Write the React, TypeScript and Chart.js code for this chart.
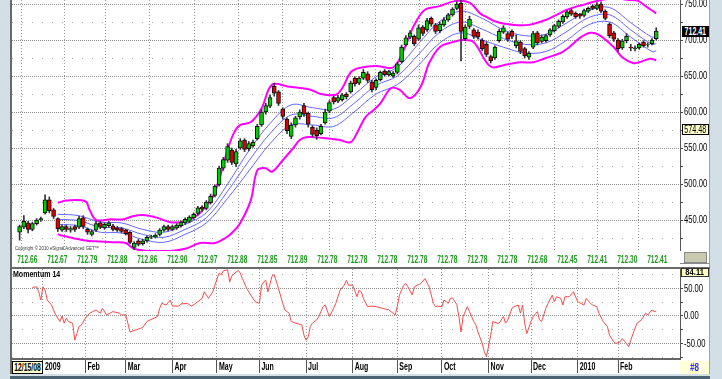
import React, { useEffect, useRef } from 'react';
import { Chart, registerables } from 'chart.js';

Chart.register(...registerables);

// ---------------- DATA ----------------
// trading-day number counted from 12/15/08 (day 0); each candle covers two sessions
const OPEN = [
  433,440,446,437,445,450,460,478,464,452,
  436,441,436,441,440,453,437,430,436,446,
  439,442,442,439,438,436,433,412,421,417,
  421,426,426,430,436,441,437,439,442,446,
  448,453,459,468,466,474,484,499,522,533,
  547,528,550,561,549,553,563,582,600,608,
  636,628,604,590,566,582,593,609,598,579,
  575,570,585,601,620,615,617,625,628,647,
  640,647,653,642,634,645,657,652,650,655,
  670,693,704,705,701,718,714,730,721,713,
  721,728,735,744,751,702,719,714,711,700,
  694,677,675,699,711,709,712,692,697,688,
  676,690,710,698,699,707,713,719,725,732,
  741,737,736,734,740,747,744,750,740,722,
  710,700,689,699,690,688,689,697,693,695,
  702,
];
const CLOSE = [
  441,448,437,445,450,452,478,463,455,438,
  441,437,438,437,452,441,433,434,445,440,
  444,446,437,436,434,431,419,418,416,421,
  426,427,429,436,441,437,441,443,447,451,
  454,458,467,465,475,483,497,522,534,552,
  530,545,560,548,556,558,580,600,609,620,
  626,612,594,574,582,592,600,597,583,569,
  567,580,600,613,614,620,624,621,640,639,
  647,655,644,631,644,655,652,656,654,667,
  690,703,710,695,717,709,727,722,712,722,
  728,735,743,750,712,718,729,705,704,688,
  680,671,690,712,717,701,705,699,684,678,
  682,709,696,704,706,714,720,726,733,739,
  736,732,733,741,744,744,749,740,730,706,
  701,688,699,705,689,689,694,692,693.5,700,
  712.41,
];
const HIGH = [
  443,456,448,447,452,454,485,482,466,453,
  443,443,441,443,455,456,439,436,448,448,
  446,448,444,441,440,437,434,420,423,423,
  428,429,431,438,443,443,443,445,449,453,
  456,460,469,470,477,486,499,525,537,556,
  550,548,563,563,559,561,583,604,612,624,
  640,630,606,592,585,594,603,612,600,581,
  578,583,604,616,622,623,626,627,643,649,
  649,659,656,644,646,657,659,658,656,669,
  693,706,713,707,721,720,730,732,723,725,
  731,737,745,753,755,721,733,716,714,702,
  697,679,692,715,720,711,714,707,699,690,
  684,712,712,707,708,716,722,728,735,741,
  743,739,737,743,746,749,752,753,742,724,
  712,702,701,709,694,692,696,699,696,702,
  717,
];
const LOW = [
  422,438,432,435,443,448,458,460,452,434,
  434,434,433,434,438,438,430,428,434,438,
  437,440,435,434,432,429,417,409,414,415,
  419,424,425,428,434,435,435,437,440,444,
  446,451,457,462,464,472,482,497,519,530,
  527,524,548,545,546,551,561,580,597,606,
  622,609,590,570,563,579,590,594,579,566,
  562,568,583,599,611,613,615,618,626,636,
  638,645,641,628,631,643,650,650,648,653,
  668,691,702,692,699,706,712,719,709,710,
  719,726,733,742,671,699,716,702,701,685,
  677,668,673,697,709,698,702,689,681,675,
  673,688,693,696,697,705,711,717,723,730,
  734,730,730,732,738,742,742,738,728,703,
  698,684,687,696,685,685,687,690,690,693,
  700,
];
const CANDLE_DAYS = OPEN.map((_, k) => 1 + 2 * k);

// Bollinger bands (magenta)
const UPPER_DAYS = [19,23,32,34,37,44,50,54,59,66,72,79,85,89,92,95,99,102,105,110,115,120,128,138,143,150,153,157,161,169,176,179,183,187,192,199,206,213,218,221,226,234,241,249,254,259,264,268,274,282,287,292,297,301];
const UPPER_BAND = [474,477,476,464,450,451,451,455,457,453,447,448,457,470,482,506,547,571,582,586,605,638,635,631,625,624,633,655,661,664,661,668,693,721,742,747,754,752,737,732,725,721,721,728,735,742,747,750,755,758,756,755,745,737];
const LOWER_DAYS = [19,23,31,39,46,51,55,62,72,79,86,93,98,101,105,110,113,117,120,125,130,133,136,144,152,157,160,164,168,171,176,180,185,190,194,199,205,210,215,221,224,229,237,243,249,256,260,265,270,274,281,285,290,293,298,301];
const LOWER_BAND = [430,427,422,420,419,418,410,407,407,410,418,418,425,432,446,478,519,522,517,533,550,561,565,564,561,558,571,593,603,612,633,631,619,635,668,690,697,700,697,669,662,665,669,669,675,682,690,703,710,707,690,676,668,669,674,672];

// channel lines (blue)
const CHANNEL_DAYS = [19,29,39,49,59,69,79,89,99,109,119,129,139,149,159,169,179,189,199,209,219,229,239,249,259,269,279,289,299,301];
const CHANNEL_MID = [451,449,440,439,430,426,437,453,490,532,570,596,594,592,613,637,650,680,711,725,715,702,694,696,712,731,735,714,694,695];
const CHANNEL_UP = [458,456,447,446,437,433,444,460,500,546,584,610,606,604,625,649,662,695,726,740,730,714,706,708,724,741,745,724,704,705];
const CHANNEL_LO = [444,442,433,432,423,419,430,446,480,518,556,582,582,580,601,625,638,665,696,710,700,690,682,684,700,721,725,704,684,685];

// Momentum 14
const MOM_DAYS = [7,9,10,11,12,13,14,16,18,20,21,22,23,24,26,27,28,29,30,32,34,37,39,40,42,45,48,49,51,52,53,56,59,61,62,66,67,68,70,72,73,76,77,80,82,84,85,87,88,90,92,93,95,96,97,99,100,101,104,105,106,108,110,111,112,114,115,116,117,118,120,121,123,125,126,128,129,131,134,135,136,137,138,139,141,142,143,144,145,147,149,150,151,152,154,155,156,158,160,161,162,163,165,167,169,172,175,176,178,179,180,182,183,184,186,187,190,192,194,196,197,198,200,201,203,204,205,207,208,209,210,212,213,215,216,217,219,220,221,223,224,226,227,229,230,231,233,234,236,237,238,239,240,242,243,245,246,247,249,250,252,253,254,256,257,258,260,262,263,264,267,268,270,271,273,274,276,278,279,281,282,284,285,287,288,289,291,292,294,296,297,299,300,301];
const MOM_VALUES = [52,53,44,29,53,47,29,20,2,-10,0,-13,-4,-10,-13,-44,-32,-19,-17,-4,5,11,5,14,2,8,5,2,2,-13,-29,-25,-21,-10,-8,-1,14,23,20,29,18,18,22,23,18,23,26,32,44,32,44,56,78,75,82,84.11,62,73,83,78,68,50,38,32,26,23,56,62,65,44,73,75,50,23,11,5,-10,-13,-16,-35,-44,-38,-19,-13,-7,-1,8,17,20,-1,14,23,35,47,56,65,56,56,35,47,44,32,17,18,17,14,11,8,2,18,38,56,59,53,38,53,59,68,53,23,17,18,17,29,23,32,33,21,-1,-29,-1,17,8,-10,-16,-29,-50,-65,-74,-35,-10,-13,-13,-1,-13,-8,14,17,20,5,20,-13,-32,-10,-1,8,-7,-10,14,23,38,26,35,32,20,35,35,44,35,26,20,32,23,20,17,5,-10,-19,-35,-47,-50,-47,-41,-50,-56,-44,-22,-13,-7,5,2,11,8,9];

// axes and labels
const MONTH_DAYS = [12,32,51,73,94,114,136,158,179,200,222,242,264,283];
const MONTH_LABELS = ['2009','Feb','Mar','Apr','May','Jun','Jul','Aug','Sep','Oct','Nov','Dec','2010','Feb'];
const PRICE_TICKS = [425,450,475,500,525,550,575,600,625,650,675,700,725,750];
const PRICE_LABELED = [450,500,550,600,650,700,750];
const MOM_TICKS = [-75,-50,-25,0,25,50,75];
const MOM_LABELED = [-50,0,50];
const GET_VALUES = ['712.66','712.67','712.79','712.88','712.86','712.90','712.97','712.88','712.85','712.89','712.78','712.78','712.78','712.78','712.78','712.78','712.78','712.68','712.45','712.41','712.30','712.41'];
const LAST_PRICE = '712.41';
const SECOND_PRICE = '574.48';
const MOM_MAX_LABEL = '84.11';
const START_DATE = '12/15/08';
const PANEL_TITLE = 'Momentum 14';
const COPYRIGHT = 'Copyright © 2010 eSignal Advanced GET™';

// ---------------- STYLE ----------------
const SANS = '"Liberation Sans", Arial, sans-serif';
const X_MIN = -2.59;
const X_MAX = 312.2;
const P_MIN = 406.95;
const P_MAX = 755.56;
const M_MAX = 85.45;
const M_MIN = -78.2;

const pts = (xs: number[], ys: number[]) => xs.map((x, i) => ({ x, y: ys[i] }));

function squeezeText(ctx: CanvasRenderingContext2D, text: string, x: number, y: number, sx: number) {
  ctx.save();
  ctx.translate(x, y);
  ctx.scale(sx, 1);
  ctx.fillText(text, 0, 0);
  ctx.restore();
}

function xScale(withTicks: boolean): any {
  return {
    type: 'linear',
    min: X_MIN,
    max: X_MAX,
    offset: false,
    afterBuildTicks: (s: any) => { s.ticks = MONTH_DAYS.map((v) => ({ value: v })); },
    ticks: { display: false },
    grid: {
      color: '#9a9a9a', lineWidth: 1,
      drawTicks: withTicks, tickLength: 14, tickColor: '#555', tickBorderDash: [20, 0],
    },
    border: { display: withTicks, color: '#666', width: 2, dash: [1, 2] },
    afterFit: (s: any) => { s.height = withTicks ? 15 : 0; s.paddingLeft = 0; s.paddingRight = 0; },
  };
}

function yScale(min: number, max: number, ticks: number[], labeled: number[]): any {
  return {
    type: 'linear', position: 'right', min, max,
    afterBuildTicks: (s: any) => { s.ticks = ticks.map((v) => ({ value: v })); },
    ticks: { display: false },
    grid: {
      color: (c: any) => (c.tick && labeled.includes(c.tick.value) ? '#8c8c8c' : '#a8a8a8'),
      drawTicks: true, tickLength: 3, tickColor: '#444', tickBorderDash: [20, 0],
    },
    border: {
      display: true, color: '#555', width: 1,
      dash: (c: any) => (c.tick && labeled.includes(c.tick.value) ? [1, 1] : [1, 9]),
    },
    afterFit: (s: any) => { s.width = 29; s.paddingTop = 0; s.paddingBottom = 0; },
  };
}

function yLabelsPlugin(labeled: number[]) {
  return {
    id: 'yLabels',
    afterDraw(chart: any) {
      const ctx = chart.ctx as CanvasRenderingContext2D;
      const ys = chart.scales.y;
      ctx.save();
      ctx.fillStyle = '#000';
      ctx.font = `10px ${SANS}`;
      ctx.textBaseline = 'middle';
      ctx.textAlign = 'left';
      for (const v of labeled) {
        squeezeText(ctx, v.toFixed(2), ys.left + 4, ys.getPixelForValue(v) + 0.5, 0.76);
      }
      ctx.restore();
    },
  };
}

const monthLabelsPlugin = {
  id: 'monthLabels',
  afterDraw(chart: any) {
    const ctx = chart.ctx as CanvasRenderingContext2D;
    const xs = chart.scales.x;
    const y = chart.chartArea.bottom + 8.5;
    ctx.save();
    ctx.fillStyle = '#000';
    ctx.font = `bold 10px ${SANS}`;
    ctx.textBaseline = 'middle';
    ctx.textAlign = 'left';
    MONTH_DAYS.forEach((d, i) => {
      squeezeText(ctx, MONTH_LABELS[i], xs.getPixelForValue(d) + 2, y, 0.7);
    });
    ctx.restore();
  },
};

const Sq = (p: { text: string; sx: number; style: React.CSSProperties; center?: boolean }) => (
  <div style={{ position: 'absolute', whiteSpace: 'nowrap', textAlign: p.center ? 'center' : 'left', ...p.style }}>
    <span style={{ display: 'inline-block', transform: `scaleX(${p.sx})`, transformOrigin: p.center ? 'center center' : 'left center' }}>
      {p.text}
    </span>
  </div>
);

export default function App() {
  const priceRef = useRef<HTMLCanvasElement>(null);
  const momRef = useRef<HTMLCanvasElement>(null);

  useEffect(() => {
    const bodies: any[] = [];
    const wicks: any[] = [];
    const colors: string[] = [];
    for (let k = 0; k < OPEN.length; k++) {
      const d = CANDLE_DAYS[k];
      bodies.push({ x: d, y: [Math.min(OPEN[k], CLOSE[k]), Math.max(OPEN[k], CLOSE[k])] });
      wicks.push({ x: d, y: [LOW[k], HIGH[k]] });
      colors.push(CLOSE[k] >= OPEN[k] ? '#00cc00' : '#e00000');
    }
    const lineDs = (data: any[], color: string, width: number) => ({
      type: 'line', data, borderColor: color, borderWidth: width,
      pointRadius: 0, tension: 0.35, fill: false, order: 5,
    });

    const price = new Chart(priceRef.current as HTMLCanvasElement, {
      type: 'bar',
      data: {
        datasets: [
          lineDs(pts(UPPER_DAYS, UPPER_BAND), '#ff00ff', 2),
          lineDs(pts(LOWER_DAYS, LOWER_BAND), '#ff00ff', 2),
          lineDs(pts(CHANNEL_DAYS, CHANNEL_UP), '#6464ff', 1),
          lineDs(pts(CHANNEL_DAYS, CHANNEL_MID), '#6464ff', 1),
          lineDs(pts(CHANNEL_DAYS, CHANNEL_LO), '#6464ff', 1),
          { type: 'bar', data: wicks, backgroundColor: '#333', barThickness: 1, grouped: false, order: 3 },
          {
            type: 'bar', data: bodies, backgroundColor: colors, borderColor: '#111',
            borderWidth: 1, borderSkipped: false, barThickness: 4, grouped: false, order: 2,
          },
        ] as any,
      },
      options: {
        responsive: false, animation: false, events: [],
        layout: { padding: 0 },
        plugins: { legend: { display: false }, tooltip: { enabled: false } },
        scales: { x: xScale(false), y: yScale(P_MIN, P_MAX, PRICE_TICKS, PRICE_LABELED) },
      } as any,
      plugins: [yLabelsPlugin(PRICE_LABELED)],
    });

    const mom = new Chart(momRef.current as HTMLCanvasElement, {
      type: 'line',
      data: {
        datasets: [
          { data: pts(MOM_DAYS, MOM_VALUES), borderColor: '#ff4848', borderWidth: 1, pointRadius: 0, tension: 0, fill: false },
        ] as any,
      },
      options: {
        responsive: false, animation: false, events: [],
        layout: { padding: 0 },
        plugins: { legend: { display: false }, tooltip: { enabled: false } },
        scales: { x: xScale(true), y: yScale(M_MIN, M_MAX, MOM_TICKS, MOM_LABELED) },
      } as any,
      plugins: [yLabelsPlugin(MOM_LABELED), monthLabelsPlugin],
    });

    return () => { price.destroy(); mom.destroy(); };
  }, []);

  const abs = (o: any) => ({ position: 'absolute', ...o }) as React.CSSProperties;

  return (
    <div style={abs({ position: 'fixed', left: 0, top: 0, width: 722, height: 379, background: '#d3dfe6', overflow: 'hidden', fontFamily: SANS })}>
      {/* panel backgrounds and frames */}
      <div style={abs({ left: 12, top: 0, width: 698, height: 374, background: '#ffffff' })} />
      <div style={abs({ left: 10, top: 0, width: 2, height: 374, background: '#6a6a6a' })} />
      <div style={abs({ left: 709, top: 0, width: 1, height: 374, background: '#9aa4aa' })} />
      <div style={abs({ left: 12, top: 267, width: 698, height: 2, background: '#6a6a6a' })} />
      <div style={abs({ left: 680, top: 263, width: 29, height: 1, background: '#888' })} />
      <div style={abs({ left: 10, top: 376, width: 700, height: 3, background: '#4b6474' })} />

      <canvas ref={priceRef} width={697} height={251} style={abs({ left: 12, top: 0 })} />
      <canvas ref={momRef} width={697} height={105} style={abs({ left: 12, top: 269 })} />

      {/* price panel texts */}
      <Sq text={COPYRIGHT} sx={0.72} style={{ left: 15, top: 245, fontSize: 6, lineHeight: '7px', color: '#333' }} />
      {GET_VALUES.map((v, i) => (
        <Sq key={i} text={v} sx={0.66} center style={{ left: 7 + 30 * i, top: 254, width: 40, fontSize: 10, fontWeight: 'bold', color: '#1f9a1f', lineHeight: '11px' }} />
      ))}
      <div style={abs({ left: 682, top: 26, width: 27, height: 11, background: '#000' })} />
      <Sq text={LAST_PRICE} sx={0.7} center style={{ left: 675, top: 26, width: 41, fontSize: 10, fontWeight: 'bold', color: '#fff', lineHeight: '11px' }} />
      <div style={abs({ left: 682, top: 124, width: 25, height: 9, background: '#ffffd0', border: '1px solid #000' })} />
      <Sq text={SECOND_PRICE} sx={0.72} center style={{ left: 675, top: 124, width: 41, fontSize: 10, color: '#000', lineHeight: '11px' }} />
      <div style={abs({ left: 684, top: 252, width: 21, height: 9, background: '#c9c9b0', border: '1px solid #888' })} />

      {/* momentum panel texts */}
      <Sq text={PANEL_TITLE} sx={0.78} style={{ left: 13, top: 269, fontSize: 9, fontWeight: 'bold', color: '#000', lineHeight: '10px' }} />
      <div style={abs({ left: 681, top: 268, width: 26, height: 7, background: '#ffffc8', border: '1px solid #333' })} />
      <Sq text={MOM_MAX_LABEL} sx={0.8} center style={{ left: 674, top: 267, width: 41, fontSize: 9.5, fontWeight: 'bold', color: '#000', lineHeight: '10px' }} />

      {/* date strip */}
      <div style={abs({ left: 12, top: 361, width: 29, height: 11, background: '#ffffd0', border: '1px solid #000' })} />
      <Sq text={START_DATE} sx={0.68} center style={{ left: 7, top: 361, width: 41, fontSize: 10, fontWeight: 'bold', color: '#000', lineHeight: '13px' }} />
      <div style={abs({ left: 680, top: 361, width: 29, height: 13, background: '#ffffd8' })} />
      <Sq text="#8" sx={0.8} center style={{ left: 680, top: 361, width: 29, fontSize: 10, fontWeight: 'bold', color: '#2a2aff', lineHeight: '13px' }} />
    </div>
  );
}
